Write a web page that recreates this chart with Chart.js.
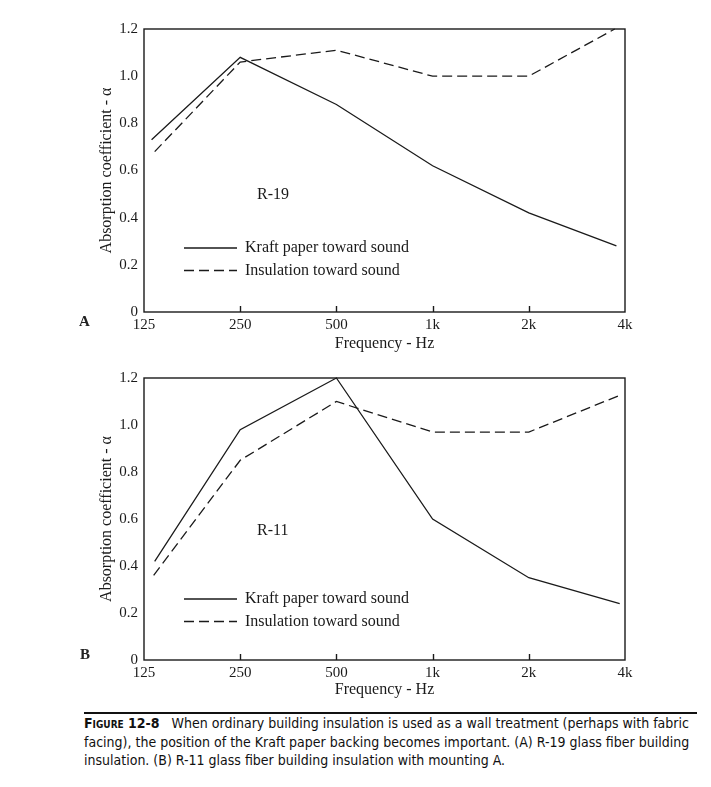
<!DOCTYPE html>
<html>
<head>
<meta charset="utf-8">
<script src="https://cdn.jsdelivr.net/npm/chart.js@4.4.0/dist/chart.umd.min.js"></script>
<style>
  body { margin: 0; background: #fff; width: 711px; height: 787px; position: relative; overflow: hidden; }
  canvas { position: absolute; left: 0; }
  .panel { position: absolute; font: bold 15px "Liberation Serif", serif; color: #222; }
  .rule { position: absolute; left: 84px; top: 712px; width: 613px; height: 2px; background: #111; }
  .caption { position: absolute; left: 84px; top: 714px; white-space: nowrap; font: 14px "DejaVu Sans Condensed", "Liberation Sans Narrow", sans-serif; font-stretch: condensed; line-height: 18.5px; color: #111; }
  .caption b { font-variant: small-caps; }
</style>
</head>
<body>
<canvas id="chart-a" width="711" height="360" style="top:0"></canvas>
<canvas id="chart-b" width="711" height="350" style="top:360px"></canvas>
<div class="panel" style="left:79px;top:313px">A</div>
<div class="panel" style="left:80px;top:646px">B</div>
<div class="rule"></div>
<div class="caption"><b>Figure 12-8</b>&nbsp;&nbsp; When ordinary building insulation is used as a wall treatment (perhaps with fabric<br>facing), the position of the Kraft paper backing becomes important. (A) R-19 glass fiber building<br>insulation. (B) R-11 glass fiber building insulation with mounting A.</div>
<script>
const freqTicks = [125, 250, 500, 1000, 2000, 4000];
const tickLabels = ['125', '250', '500', '1k', '2k', '4k'];
const alphaTicks = [0, 0.2, 0.4, 0.6, 0.8, 1.0, 1.2];

const r19KraftFreq = [132, 250, 500, 1000, 2000, 3760];
const r19KraftAlpha = [0.73, 1.08, 0.88, 0.62, 0.42, 0.28];
const r19InsulFreq = [135, 250, 500, 1000, 2000, 3715];
const r19InsulAlpha = [0.68, 1.06, 1.11, 1.0, 1.0, 1.2];

const r11KraftFreq = [135, 250, 500, 1000, 2000, 3850];
const r11KraftAlpha = [0.42, 0.98, 1.2, 0.6, 0.35, 0.24];
const r11InsulFreq = [134, 250, 500, 1000, 2000, 3915];
const r11InsulAlpha = [0.36, 0.85, 1.1, 0.97, 0.97, 1.13];

const INK = '#1a1a1a';
const SERIF = '"Liberation Serif", "Times New Roman", serif';
const DASH = [10, 5];

const toPoints = (freqs, alphas) => freqs.map((f, i) => ({ x: f, y: alphas[i] }));

// box around the plot, inward ticks on the x axis, legend and the R-value note
const framePlugin = {
  id: 'frame',
  afterDatasetsDraw(chart, args, opts) {
    const { ctx, chartArea } = chart;
    const xScale = chart.scales.x;
    ctx.save();
    ctx.strokeStyle = INK;
    ctx.lineWidth = 1.4;
    ctx.strokeRect(chartArea.left, chartArea.top, chartArea.right - chartArea.left, chartArea.bottom - chartArea.top);

    freqTicks.slice(1, -1).forEach((f) => {
      const x = Math.round(xScale.getPixelForValue(f)) + 0.5;
      ctx.beginPath();
      ctx.moveTo(x, chartArea.bottom);
      ctx.lineTo(x, chartArea.bottom - 6);
      ctx.stroke();
    });

    ctx.fillStyle = INK;
    ctx.font = '16px ' + SERIF;
    ctx.textBaseline = 'middle';
    ctx.textAlign = 'left';

    chart.data.datasets.forEach((dataset, i) => {
      const y = chartArea.top + opts.legendY + i * 22.5;
      ctx.lineWidth = 1.3;
      ctx.setLineDash(dataset.borderDash || []);
      ctx.beginPath();
      ctx.moveTo(chartArea.left + 40, y);
      ctx.lineTo(chartArea.left + 93, y);
      ctx.stroke();
      ctx.setLineDash([]);
      ctx.fillText(dataset.label, chartArea.left + 101, y);
    });

    ctx.fillText(opts.note, chartArea.left + 113, chartArea.top + opts.noteY);
    ctx.restore();
  },
};

const buildChart = (canvas, kraft, insul, frameOptions, padding, xTitlePad) => {
  return new Chart(canvas, {
    type: 'line',
    data: {
      datasets: [
        {
          label: 'Kraft paper toward sound',
          data: kraft,
          borderColor: INK,
          borderWidth: 1.3,
          pointRadius: 0,
          tension: 0,
          clip: 4,
        },
        {
          label: 'Insulation toward sound',
          data: insul,
          borderColor: INK,
          borderWidth: 1.3,
          borderDash: DASH,
          pointRadius: 0,
          tension: 0,
          clip: 4,
        },
      ],
    },
    options: {
      responsive: false,
      animation: false,
      devicePixelRatio: 1,
      layout: { padding: padding },
      plugins: {
        legend: { display: false },
        tooltip: { enabled: false },
        frame: frameOptions,
      },
      scales: {
        x: {
          type: 'logarithmic',
          min: 125,
          max: 4000,
          grid: { display: false, drawTicks: false },
          border: { display: false },
          afterBuildTicks: (scale) => {
            scale.ticks = freqTicks.map((v) => ({ value: v }));
          },
          afterFit: (scale) => {
            scale.height = padding.xHeight;
          },
          ticks: {
            color: INK,
            padding: 4,
            maxRotation: 0,
            autoSkip: false,
            font: { family: SERIF, size: 15 },
            callback: (value) => tickLabels[freqTicks.indexOf(value)],
          },
          title: {
            display: true,
            text: 'Frequency - Hz',
            color: INK,
            padding: { top: 0, bottom: xTitlePad },
            font: { family: SERIF, size: 16 },
          },
        },
        y: {
          min: 0,
          max: 1.2,
          grid: { display: false, drawTicks: false },
          border: { display: false },
          afterBuildTicks: (scale) => {
            scale.ticks = alphaTicks.map((v) => ({ value: v }));
          },
          afterFit: (scale) => {
            scale.width = 54;
          },
          ticks: {
            color: INK,
            padding: 6,
            font: { family: SERIF, size: 15 },
            callback: (value) => (value === 0 ? '0' : value.toFixed(1)),
          },
          title: {
            display: true,
            text: 'Absorption coefficient - α',
            color: INK,
            padding: { top: 7, bottom: 0 },
            font: { family: SERIF, size: 16 },
          },
        },
      },
    },
    plugins: [framePlugin],
  });
};

buildChart(
  document.querySelector('#chart-a'),
  toPoints(r19KraftFreq, r19KraftAlpha),
  toPoints(r19InsulFreq, r19InsulAlpha),
  { note: 'R-19', noteY: 166, legendY: 219 },
  { top: 29, left: 90, right: 86, bottom: 0, xHeight: 48 },
  7
);

buildChart(
  document.querySelector('#chart-b'),
  toPoints(r11KraftFreq, r11KraftAlpha),
  toPoints(r11InsulFreq, r11InsulAlpha),
  { note: 'R-11', noteY: 153, legendY: 221 },
  { top: 18, left: 90, right: 86, bottom: 0, xHeight: 50 },
  11
);
</script>
</body>
</html>
